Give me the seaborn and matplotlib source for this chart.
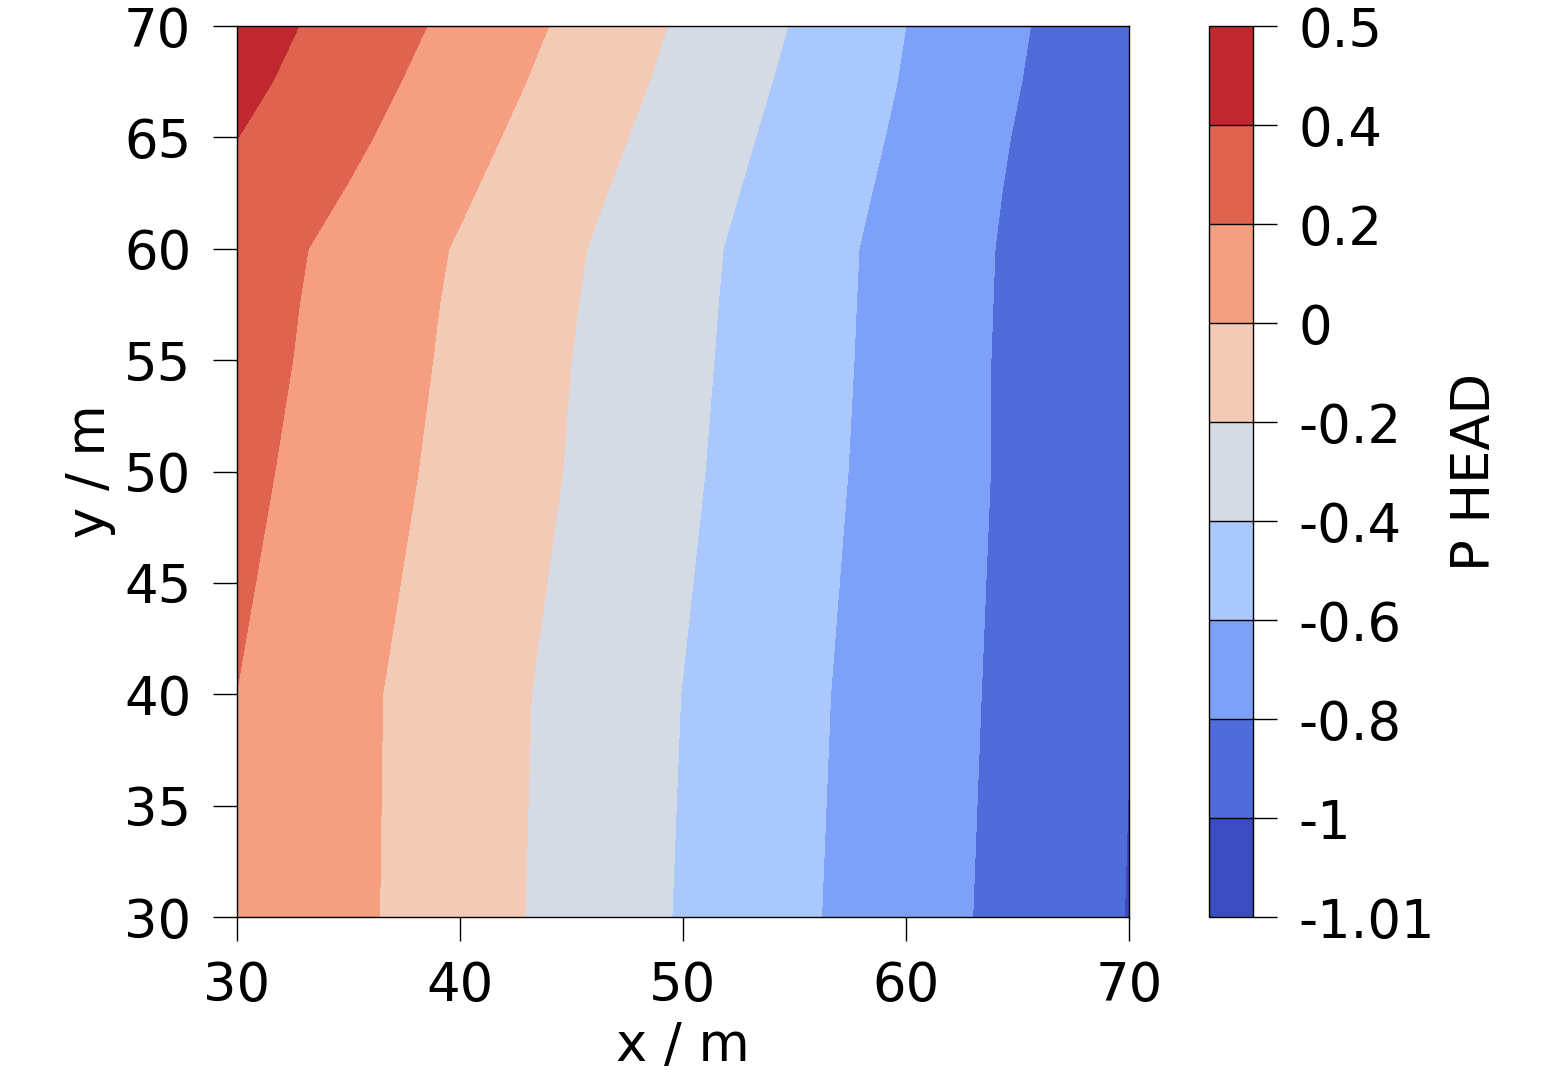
import numpy as np
import pandas as pd
import seaborn as sns
import matplotlib.pyplot as plt

# grid nodes (m)
x_nodes = [30, 35, 40, 45, 50, 55, 60, 65, 70]
y_nodes = [30, 40, 50, 55, 57.5, 60, 62.5, 65, 67.5, 70]

# pressure head, one row per y node
head_y30 = [0.197, 0.043, -0.111, -0.264, -0.415, -0.564, -0.712, -0.859, -1.006]
head_y40 = [0.199, 0.046, -0.104, -0.254, -0.403, -0.552, -0.700, -0.848, -0.997]
head_y50 = [0.253, 0.097, -0.058, -0.212, -0.369, -0.525, -0.681, -0.838, -0.994]
head_y55 = [0.279, 0.121, -0.039, -0.200, -0.356, -0.514, -0.675, -0.839, -0.997]
head_y575 = [0.289, 0.130, -0.029, -0.190, -0.349, -0.510, -0.672, -0.836, -0.998]
head_y60 = [0.301, 0.143, -0.016, -0.177, -0.341, -0.505, -0.669, -0.833, -0.997]
head_y625 = [0.357, 0.190, 0.023, -0.146, -0.315, -0.483, -0.652, -0.824, -0.997]
head_y65 = [0.402, 0.239, 0.064, -0.110, -0.286, -0.461, -0.632, -0.811, -0.989]
head_y675 = [0.455, 0.283, 0.107, -0.073, -0.255, -0.436, -0.614, -0.793, -0.971]
head_y70 = [0.495, 0.324, 0.148, -0.038, -0.226, -0.411, -0.600, -0.779, -0.957]

levels = [-1.01, -1, -0.8, -0.6, -0.4, -0.2, 0, 0.2, 0.4, 0.5]
level_labels = ["-1.01", "-1", "-0.8", "-0.6", "-0.4", "-0.2", "0", "0.2", "0.4", "0.5"]
x_ticks = [30, 40, 50, 60, 70]
y_ticks = [30, 35, 40, 45, 50, 55, 60, 65, 70]

rows = [head_y30, head_y40, head_y50, head_y55, head_y575,
        head_y60, head_y625, head_y65, head_y675, head_y70]
df = pd.DataFrame(rows, index=y_nodes, columns=x_nodes)

sns.set_style("ticks")
plt.rcParams['font.family'] = ['DejaVu Sans']
plt.rcParams['axes.edgecolor'] = 'black'
plt.rcParams['axes.labelcolor'] = 'black'
plt.rcParams['text.color'] = 'black'
plt.rcParams['xtick.color'] = 'black'
plt.rcParams['ytick.color'] = 'black'

fig = plt.figure(figsize=(15.6, 10.8), dpi=100)
ax = fig.add_axes([0.1519, 0.1509, 0.5718, 0.825])
cax = fig.add_axes([0.775, 0.1509, 0.0282, 0.825])

cmap = sns.color_palette("coolwarm", as_cmap=True)
X, Y = np.meshgrid(df.columns.values, df.index.values)
cs = ax.contourf(X, Y, df.values, levels=levels, cmap=cmap, antialiased=False)

fs = 38
ax.set_xlim(30, 70)
ax.set_ylim(30, 70)
ax.set_xticks(x_ticks)
ax.set_yticks(y_ticks)
ax.tick_params(labelsize=fs, length=17, width=1, pad=14, direction='out')
ax.tick_params(axis='y', pad=16)
ax.set_xlabel("x / m", fontsize=fs, labelpad=6)
ax.set_ylabel("y / m", fontsize=fs, labelpad=6)
for s in ax.spines.values():
    s.set_linewidth(1)

cb = fig.colorbar(cs, cax=cax, drawedges=True)
cb.set_ticks(levels)
cb.set_ticklabels(level_labels)
cb.ax.tick_params(labelsize=fs, length=17, width=1, pad=16)
cb.outline.set_linewidth(1)
cb.dividers.set_linewidth(1)
cb.set_label("P HEAD", fontsize=fs, labelpad=10)

fig.savefig("out.png", dpi=100)
